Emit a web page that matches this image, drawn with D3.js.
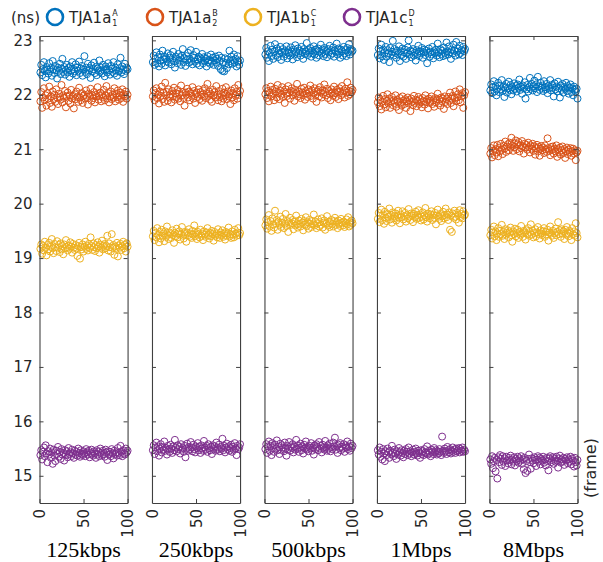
<!DOCTYPE html>
<html>
<head>
<meta charset="utf-8">
<script src="https://cdn.jsdelivr.net/npm/d3@7"></script>
<style>
  body { margin: 0; background: #fff; }
  svg { display: block; }
</style>
</head>
<body>
<div id="chart"></div>
<script>
// panel categories (bit rates) and legend series
const categories = ['125kbps', '250kbps', '500kbps', '1Mbps', '8Mbps'];
const seriesNames = ['TJA1a', 'TJA1a', 'TJA1b', 'TJA1c'];
const seriesSup = ['A', 'B', 'C', 'D'];
const seriesSub = ['1', '2', '1', '1'];
const colors = ['#0072BD', '#D95319', '#EDB120', '#7E2F8E'];
const yTicks = [15, 16, 17, 18, 19, 20, 21, 22, 23];
const xTicks = [0, 50, 100];

// 125kbps
const p125A = [22.41,22.55,22.36,22.47,22.60,22.44,22.32,22.51,22.46,22.39,22.58,22.43,22.49,22.35,22.62,22.47,22.40,22.53,22.45,22.30,22.50,22.44,22.57,22.38,22.48,22.66,22.42,22.51,22.37,22.46,22.55,22.41,22.49,22.33,22.52,22.45,22.60,22.39,22.47,22.43,22.56,22.36,22.50,22.44,22.61,22.40,22.48,22.53,22.35,22.46,22.71,22.42,22.50,22.38,22.57,22.45,22.49,22.31,22.54,22.43,22.47,22.59,22.40,22.51,22.36,22.48,22.44,22.63,22.42,22.50,22.39,22.55,22.46,22.34,22.52,22.47,22.41,22.58,22.45,22.37,22.53,22.48,22.42,22.60,22.39,22.50,22.45,22.35,22.56,22.43,22.49,22.68,22.41,22.52,22.46,22.38,22.57,22.44,22.50,22.47];
const p125B = [21.88,22.05,21.76,21.95,22.12,21.90,21.99,21.80,22.03,21.93,22.15,21.85,21.97,21.78,22.06,21.92,22.00,21.87,22.10,21.95,21.83,22.02,21.96,21.91,22.18,21.86,21.99,21.94,22.07,21.77,21.97,22.04,21.89,21.99,21.84,22.09,21.93,21.98,21.75,22.01,21.92,22.06,21.96,21.87,22.13,21.95,21.90,22.03,21.85,21.98,22.00,21.93,22.08,21.96,21.82,22.02,21.97,22.11,21.89,21.99,21.94,22.05,21.86,22.00,21.97,22.14,21.91,21.98,22.04,21.88,22.01,21.95,22.09,21.90,21.99,22.16,21.93,22.03,21.86,21.97,22.06,21.92,22.00,21.95,22.12,21.88,22.02,21.96,22.08,21.91,21.99,22.04,21.94,22.10,21.87,22.01,21.97,22.06,21.93,22.00];
const p125C = [19.17,19.25,19.08,19.22,19.14,19.30,19.19,19.05,19.24,19.16,19.28,19.12,19.21,19.35,19.18,19.09,19.26,19.20,19.13,19.31,19.19,19.24,19.11,19.27,19.16,19.22,19.07,19.25,19.18,19.33,19.20,19.14,19.23,19.17,19.29,19.21,19.10,19.26,19.19,19.15,19.24,19.18,19.04,19.22,19.28,18.99,19.20,19.16,19.25,19.12,19.21,19.30,19.17,19.23,19.14,19.26,19.19,19.38,19.22,19.15,19.27,19.20,19.13,19.24,19.18,19.29,19.21,19.10,19.25,19.19,19.32,19.16,19.23,19.26,19.18,19.22,19.41,19.14,19.27,19.20,19.12,19.44,19.19,19.24,19.06,19.21,19.17,19.28,19.03,19.23,19.19,19.26,19.15,19.22,19.30,19.18,19.24,19.12,19.27,19.21];
const p125D = [15.38,15.47,15.30,15.44,15.52,15.36,15.56,15.41,15.25,15.45,15.39,15.50,15.33,15.43,15.22,15.48,15.37,15.27,15.46,15.40,15.53,15.35,15.44,15.31,15.49,15.39,15.42,15.28,15.47,15.38,15.45,15.34,15.51,15.40,15.43,15.36,15.48,15.41,15.33,15.46,15.39,15.44,15.37,15.50,15.42,15.35,15.47,15.40,15.38,15.45,15.41,15.36,15.49,15.43,15.39,15.46,15.34,15.42,15.48,15.40,15.37,15.45,15.41,15.33,15.47,15.39,15.44,15.36,15.50,15.42,15.38,15.46,15.40,15.35,15.48,15.43,15.29,15.45,15.39,15.44,15.36,15.49,15.41,15.32,15.46,15.40,15.43,15.37,15.51,15.42,15.38,15.55,15.44,15.36,15.47,15.41,15.39,15.50,15.43,15.46];

// 250kbps
const p250A = [22.60,22.72,22.55,22.66,22.78,22.58,22.69,22.52,22.74,22.63,22.57,22.81,22.65,22.70,22.54,22.67,22.61,22.76,22.59,22.68,22.73,22.56,22.64,22.79,22.62,22.50,22.70,22.66,22.58,22.75,22.63,22.69,22.55,22.72,22.84,22.60,22.67,22.53,22.71,22.64,22.77,22.59,22.66,22.82,22.62,22.56,22.73,22.68,22.61,22.79,22.57,22.65,22.70,22.54,22.67,22.63,22.75,22.58,22.69,22.62,22.66,22.52,22.71,22.60,22.64,22.57,22.74,22.61,22.68,22.55,22.63,22.70,22.59,22.66,22.53,22.72,22.62,22.47,22.68,22.44,22.60,22.43,22.67,22.58,22.49,22.65,22.56,22.81,22.62,22.70,22.57,22.64,22.74,22.59,22.66,22.52,22.71,22.61,22.55,22.63];
const p250B = [21.97,22.08,21.90,22.03,22.12,21.94,22.00,21.84,22.06,21.98,22.15,21.92,22.04,21.87,22.22,21.99,22.05,21.89,22.10,21.95,22.01,21.86,22.07,21.97,22.13,21.91,22.03,21.96,22.09,21.93,22.02,21.88,22.17,21.99,22.05,21.94,21.80,22.04,22.00,22.11,21.95,22.06,21.90,22.03,21.98,22.14,21.93,22.07,21.85,22.01,22.04,21.96,22.10,21.92,22.05,22.00,21.89,22.08,21.97,22.12,21.94,22.03,22.20,21.98,22.06,21.91,22.01,21.87,22.09,21.99,22.05,21.95,22.16,22.00,21.90,22.07,21.96,22.02,21.88,22.11,21.93,22.04,21.99,22.14,21.92,22.06,21.97,22.01,21.83,22.08,21.95,22.03,21.90,22.12,21.98,22.05,21.93,22.18,22.00,22.07];
const p250C = [19.40,19.50,19.33,19.46,19.38,19.55,19.42,19.29,19.48,19.36,19.52,19.41,19.45,19.31,19.49,19.39,19.58,19.43,19.35,19.47,19.44,19.37,19.51,19.42,19.28,19.46,19.40,19.54,19.38,19.45,19.49,19.34,19.43,19.57,19.41,19.36,19.48,19.44,19.30,19.47,19.42,19.53,19.39,19.45,19.37,19.50,19.43,19.60,19.40,19.46,19.35,19.48,19.44,19.38,19.52,19.41,19.45,19.33,19.49,19.43,19.39,19.47,19.55,19.42,19.36,19.46,19.40,19.50,19.44,19.32,19.48,19.41,19.45,19.38,19.53,19.43,19.37,19.47,19.42,19.51,19.39,19.45,19.34,19.48,19.41,19.46,19.56,19.40,19.44,19.37,19.49,19.43,19.38,19.52,19.45,19.41,19.47,19.55,19.42,19.46];
const p250D = [15.47,15.56,15.40,15.52,15.61,15.45,15.54,15.37,15.50,15.58,15.43,15.53,15.48,15.63,15.46,15.51,15.39,15.55,15.49,15.44,15.57,15.50,15.42,15.54,15.47,15.66,15.52,15.45,15.56,15.49,15.53,15.41,15.58,15.48,15.51,15.44,15.55,15.34,15.50,15.59,15.46,15.53,15.48,15.62,15.52,15.45,15.57,15.49,15.43,15.54,15.51,15.60,15.47,15.53,15.42,15.56,15.50,15.46,15.64,15.52,15.48,15.55,15.44,15.58,15.51,15.47,15.53,15.40,15.56,15.49,15.54,15.46,15.61,15.52,15.48,15.57,15.45,15.53,15.50,15.68,15.47,15.55,15.43,15.52,15.59,15.49,15.54,15.46,15.51,15.57,15.44,15.53,15.48,15.60,15.50,15.38,15.55,15.49,15.52,15.58];

// 500kbps
const p500A = [22.74,22.86,22.68,22.80,22.62,22.77,22.90,22.71,22.83,22.66,22.79,22.93,22.73,22.85,22.69,22.81,22.76,22.88,22.64,22.78,22.84,22.70,22.80,22.75,22.89,22.67,22.82,22.77,22.72,22.87,22.79,22.65,22.83,22.74,22.91,22.78,22.69,22.85,22.76,22.81,22.72,22.88,22.79,22.66,22.84,22.75,22.80,22.95,22.73,22.82,22.77,22.86,22.70,22.81,22.76,22.89,22.74,22.83,22.68,22.80,22.85,22.72,22.79,22.92,22.77,22.83,22.71,22.86,22.75,22.80,22.69,22.84,22.78,22.90,22.73,22.82,22.76,22.87,22.70,22.81,22.79,22.94,22.74,22.85,22.77,22.68,22.83,22.80,22.72,22.88,22.76,22.82,22.71,22.86,22.78,22.93,22.74,22.84,22.79,22.81];
const p500B = [22.01,22.12,21.94,22.07,21.88,22.04,22.15,21.97,22.09,22.02,21.90,22.11,22.05,21.95,22.18,22.03,21.92,22.08,22.00,22.14,21.96,22.06,21.85,22.10,22.02,21.98,22.16,22.04,21.93,22.07,22.12,21.99,22.05,21.89,22.09,22.03,22.20,21.97,22.06,22.01,21.94,22.11,22.04,21.99,22.13,21.91,22.07,22.02,21.96,22.10,22.05,22.17,21.98,22.08,21.93,22.03,22.12,22.00,21.87,22.06,22.09,21.97,22.14,22.04,21.95,22.08,22.01,22.19,22.05,21.99,22.11,21.94,22.07,22.02,21.90,22.10,22.04,21.98,22.15,22.03,21.96,22.09,22.05,21.92,22.12,22.06,21.99,22.16,22.02,22.08,21.95,22.11,22.04,22.23,21.98,22.07,22.01,22.13,22.05,22.09];
const p500C = [19.60,19.71,19.54,19.66,19.79,19.58,19.68,19.50,19.73,19.62,19.56,19.87,19.64,19.70,19.52,19.67,19.61,19.76,19.57,19.65,19.72,19.55,19.63,19.81,19.59,19.68,19.48,19.66,19.74,19.61,19.64,19.70,19.53,19.67,19.60,19.78,19.62,19.56,19.69,19.63,19.58,19.72,19.65,19.51,19.68,19.61,19.75,19.59,19.66,19.54,19.70,19.63,19.57,19.68,19.62,19.80,19.60,19.67,19.55,19.64,19.71,19.58,19.66,19.61,19.73,19.56,19.65,19.69,19.52,19.63,19.77,19.60,19.67,19.57,19.64,19.70,19.62,19.58,19.68,19.74,19.61,19.66,19.55,19.69,19.63,19.59,19.72,19.65,19.60,19.67,19.57,19.64,19.71,19.62,19.75,19.58,19.66,19.61,19.69,19.64];
const p500D = [15.49,15.58,15.42,15.54,15.63,15.46,15.55,15.38,15.60,15.51,15.44,15.57,15.50,15.65,15.47,15.53,15.40,15.59,15.48,15.56,15.52,15.45,15.61,15.50,15.37,15.55,15.49,15.62,15.46,15.54,15.51,15.58,15.43,15.53,15.48,15.66,15.50,15.56,15.44,15.52,15.59,15.47,15.54,15.41,15.57,15.50,15.63,15.48,15.53,15.45,15.55,15.51,15.60,15.46,15.52,15.39,15.56,15.49,15.58,15.53,15.47,15.62,15.50,15.55,15.43,15.57,15.51,15.48,15.64,15.52,15.46,15.56,15.50,15.59,15.45,15.53,15.49,15.61,15.54,15.70,15.48,15.55,15.42,15.57,15.51,15.60,15.47,15.53,15.50,15.58,15.44,15.56,15.52,15.63,15.49,15.54,15.46,15.59,15.51,15.55];

// 1Mbps
const p1MA = [22.73,22.85,22.67,22.80,22.92,22.71,22.83,22.64,22.78,22.88,22.70,22.82,22.76,22.60,22.86,22.74,22.79,22.99,22.72,22.84,22.77,22.68,22.81,22.75,22.89,22.62,22.80,22.73,22.85,22.70,22.78,22.83,22.66,22.76,22.87,23.00,22.74,22.81,22.69,22.79,22.84,22.72,22.77,22.63,22.82,22.75,22.90,22.71,22.80,22.76,22.86,22.68,22.78,22.83,22.73,22.81,22.58,22.77,22.85,22.70,22.79,22.74,22.88,22.67,22.80,22.76,22.83,22.72,22.94,22.78,22.69,22.84,22.75,22.81,22.71,22.87,22.77,22.73,22.96,22.80,22.74,22.89,22.78,22.66,22.83,22.76,22.92,22.81,22.72,22.97,22.79,22.85,22.74,22.90,22.77,22.82,22.73,22.88,22.80,22.84];
const p1MB = [21.86,21.95,21.79,21.90,21.73,21.87,21.98,21.82,21.92,21.77,21.89,22.01,21.84,21.93,21.76,21.88,21.96,21.81,21.90,21.85,21.99,21.78,21.91,21.87,21.72,21.94,21.86,21.80,21.97,21.89,21.83,21.92,21.76,21.88,21.95,21.84,21.90,21.70,21.93,21.87,21.81,21.98,21.85,21.91,21.79,21.89,21.96,21.83,21.92,21.86,21.77,21.94,21.88,21.82,21.99,21.87,21.91,21.75,21.93,21.85,21.89,21.97,21.83,21.90,21.78,21.94,21.86,21.92,22.02,21.84,21.91,21.80,21.95,21.88,21.93,21.74,21.97,21.87,21.92,21.83,21.96,21.89,22.04,21.85,21.93,21.98,21.79,21.94,22.06,21.88,21.95,22.01,21.90,22.10,21.86,21.97,22.03,21.76,21.99,22.05];
const p1MC = [19.72,19.83,19.66,19.78,19.89,19.70,19.80,19.63,19.85,19.74,19.68,19.81,19.76,19.91,19.71,19.79,19.65,19.84,19.73,19.77,19.82,19.69,19.78,19.87,19.74,19.64,19.80,19.75,19.86,19.71,19.77,19.83,19.67,19.79,19.73,19.90,19.76,19.70,19.82,19.78,19.66,19.81,19.75,19.85,19.72,19.79,19.88,19.74,19.80,19.69,19.76,19.84,19.71,19.78,19.92,19.75,19.67,19.82,19.77,19.73,19.80,19.86,19.70,19.79,19.74,19.83,19.62,19.78,19.89,19.76,19.72,19.81,19.68,19.77,19.85,19.73,19.79,19.91,19.75,19.80,19.70,19.84,19.52,19.78,19.48,19.82,19.74,19.87,19.76,19.71,19.83,19.79,19.65,19.88,19.75,19.81,19.73,19.86,19.78,19.80];
const p1MD = [15.47,15.39,15.52,15.35,15.44,15.30,15.49,15.41,15.27,15.45,15.38,15.50,15.43,15.33,15.46,15.40,15.55,15.42,15.36,15.48,15.41,15.31,15.45,15.39,15.51,15.43,15.37,15.47,15.42,15.34,15.46,15.40,15.49,15.44,15.38,15.52,15.41,15.45,15.36,15.43,15.48,15.39,15.44,15.50,15.41,15.37,15.46,15.42,15.33,15.47,15.40,15.45,15.38,15.49,15.43,15.41,15.54,15.39,15.46,15.42,15.36,15.48,15.44,15.40,15.51,15.43,15.47,15.39,15.45,15.41,15.49,15.44,15.38,15.72,15.46,15.42,15.50,15.45,15.40,15.53,15.47,15.43,15.49,15.41,15.46,15.52,15.44,15.48,15.42,15.50,15.45,15.47,15.51,15.43,15.49,15.46,15.52,15.44,15.48,15.45];

// 8Mbps
const p8MA = [22.08,22.19,22.03,22.14,22.25,22.06,22.16,21.99,22.11,22.22,22.05,22.17,22.10,22.27,22.07,22.15,21.96,22.13,22.20,22.04,22.12,22.24,22.09,22.18,22.01,22.14,22.08,22.21,22.11,22.16,22.06,22.19,22.13,22.28,22.09,22.15,22.02,22.17,22.12,22.23,21.93,22.10,22.18,22.06,22.14,22.31,22.11,22.20,22.08,22.16,22.26,22.12,22.19,22.05,22.33,22.15,22.09,22.22,22.13,22.17,22.07,22.25,22.14,22.10,22.20,22.03,22.16,22.12,22.27,22.08,22.18,22.13,21.97,22.21,22.10,22.15,22.06,22.24,22.12,21.95,22.17,22.09,22.20,22.04,22.14,22.11,22.22,22.07,22.16,22.02,22.13,22.19,22.05,22.12,21.99,22.15,22.09,22.06,22.11,21.93];
const p8MB = [20.92,21.02,20.85,20.97,21.07,20.89,21.00,20.94,21.08,20.87,21.03,20.96,21.10,20.99,20.91,21.06,21.01,21.14,20.95,21.05,21.09,20.98,21.12,21.03,21.21,21.06,20.97,21.11,21.04,21.16,21.00,21.09,21.13,20.96,21.07,21.02,21.15,21.05,20.92,21.10,21.03,21.08,20.99,21.12,21.04,20.94,21.07,21.01,21.10,20.97,21.05,20.90,21.02,21.08,20.96,21.04,20.88,21.01,21.06,20.98,21.03,20.93,21.07,21.00,20.95,21.20,21.02,20.97,20.89,21.04,20.99,21.05,20.92,21.01,20.96,21.07,20.86,21.00,20.94,21.03,20.90,20.98,21.05,20.93,21.00,20.84,20.97,21.03,20.91,20.99,20.95,21.02,20.88,20.96,21.01,20.92,20.98,20.80,20.94,20.97];
const p8MC = [19.42,19.52,19.36,19.47,19.58,19.40,19.49,19.33,19.45,19.55,19.39,19.50,19.44,19.61,19.41,19.48,19.35,19.53,19.43,19.46,19.51,19.38,19.47,19.56,19.42,19.30,19.49,19.44,19.54,19.40,19.46,19.52,19.37,19.48,19.43,19.59,19.45,19.39,19.50,19.47,19.34,19.51,19.44,19.55,19.41,19.48,19.62,19.43,19.50,19.38,19.46,19.53,19.40,19.47,19.57,19.44,19.36,19.51,19.45,19.42,19.49,19.55,19.39,19.48,19.43,19.52,19.32,19.47,19.58,19.45,19.41,19.50,19.37,19.46,19.54,19.42,19.48,19.66,19.44,19.51,19.39,19.53,19.45,19.49,19.35,19.52,19.43,19.57,19.46,19.40,19.50,19.47,19.33,19.55,19.44,19.49,19.41,19.64,19.46,19.38];
const p8MD = [15.30,15.22,15.36,15.14,15.27,15.33,15.08,15.29,14.95,15.34,15.25,15.38,15.31,15.20,15.36,15.26,15.32,15.18,15.35,15.28,15.23,15.33,15.29,15.37,15.21,15.30,15.26,15.34,15.19,15.31,15.27,15.35,15.24,15.32,15.28,15.36,15.22,15.30,15.12,15.33,15.05,15.27,15.09,15.31,15.39,15.25,15.13,15.32,15.28,15.23,15.34,15.29,15.18,15.30,15.36,15.26,15.33,15.21,15.31,15.28,15.35,15.24,15.30,15.19,15.33,15.27,15.10,15.32,15.36,15.25,15.29,15.34,15.22,15.31,15.26,15.35,15.28,15.15,15.32,15.37,15.24,15.30,15.27,15.33,15.20,15.31,15.28,15.34,15.23,15.30,15.26,15.35,15.21,15.32,15.28,15.17,15.33,15.25,15.19,15.29];

const panelData = [
  [p125A, p125B, p125C, p125D],
  [p250A, p250B, p250C, p250D],
  [p500A, p500B, p500C, p500D],
  [p1MA, p1MB, p1MC, p1MD],
  [p8MA, p8MB, p8MC, p8MD]
];

const W = 603, H = 562;
const plotTop = 36, plotBottom = 503;
const axisFont = "'DejaVu Sans', Verdana, sans-serif";
const axisColor = '#404040';

const svg = d3.select('#chart').append('svg')
  .attr('width', W).attr('height', H)
  .style('font-family', axisFont);

// panel placement
const panelScale = d3.scaleBand().domain(categories)
  .range([39.5, 577.5]).paddingInner(0.217).paddingOuter(0);
const pw = panelScale.bandwidth();
const ph = plotBottom - plotTop;

const y = d3.scaleLinear().domain([14.5, 23.08]).range([ph, 0]);
const x = d3.scaleLinear().domain([0, 100]).range([0, pw]);

categories.forEach((cat, pi) => {
  const g = svg.append('g')
    .attr('transform', `translate(${panelScale(cat)},${plotTop})`);

  // markers
  panelData[pi].forEach((vals, si) => {
    g.append('g').selectAll('circle')
      .data(vals)
      .join('circle')
      .attr('cx', (d, i) => x(i + 1))
      .attr('cy', d => y(d))
      .attr('r', 3.5)
      .attr('fill', 'none')
      .attr('stroke', colors[si])
      .attr('stroke-width', 1);
  });

  // left axis (labels only on first panel)
  const left = g.append('g').call(
    d3.axisLeft(y).tickValues(yTicks).tickSize(-4).tickSizeOuter(0)
      .tickFormat(pi === 0 ? d3.format('d') : () => '')
  );
  const right = g.append('g').attr('transform', `translate(${pw},0)`).call(
    d3.axisRight(y).tickValues(yTicks).tickSize(-4).tickSizeOuter(0).tickFormat(() => '')
  );
  const bot = g.append('g').attr('transform', `translate(0,${ph})`).call(
    d3.axisBottom(x).tickValues(xTicks).tickSize(-4).tickSizeOuter(0).tickFormat(d3.format('d'))
  );
  const tp = g.append('g').call(
    d3.axisTop(x).tickValues(xTicks).tickSize(-4).tickSizeOuter(0).tickFormat(() => '')
  );

  [left, right, bot, tp].forEach(a => {
    a.select('.domain').attr('stroke', axisColor).attr('stroke-width', 1.1);
    a.selectAll('.tick line').attr('stroke', axisColor).attr('stroke-width', 1);
    a.selectAll('.tick text').attr('fill', '#262626').style('font-size', '15px')
      .style('font-family', axisFont);
  });
  left.selectAll('.tick text').attr('x', -7);

  // rotated frame labels
  bot.selectAll('.tick text')
    .attr('transform', 'rotate(-90)')
    .attr('x', -6).attr('y', 0).attr('dy', '0.35em')
    .attr('text-anchor', 'end');

  // bit rate label under the panel
  svg.append('text')
    .attr('x', panelScale(cat) + pw / 2)
    .attr('y', 557)
    .attr('text-anchor', 'middle')
    .style('font-family', "'Liberation Serif', 'Times New Roman', serif")
    .style('font-size', '22px')
    .attr('fill', '#000')
    .text(cat);
});

// x-axis unit on the right
svg.append('text')
  .attr('transform', `translate(596,468) rotate(-90)`)
  .attr('text-anchor', 'middle')
  .style('font-size', '16px')
  .attr('fill', '#262626')
  .text('(frame)');

// y unit + legend
svg.append('text')
  .attr('x', 11).attr('y', 23)
  .style('font-size', '15px')
  .attr('fill', '#262626')
  .text('(ns)');

const legendX = [55, 155, 253, 352];
seriesNames.forEach((name, i) => {
  const lg = svg.append('g').attr('transform', `translate(${legendX[i]},17)`);
  lg.append('circle')
    .attr('r', 8)
    .attr('fill', 'none')
    .attr('stroke', colors[i])
    .attr('stroke-width', 2.6);
  const t = lg.append('text')
    .attr('x', 14).attr('y', 6)
    .style('font-size', '15px')
    .attr('fill', '#262626')
    .text(name);
  const tw = t.node().getComputedTextLength();
  lg.append('text')
    .attr('x', 15 + tw).attr('y', -1)
    .style('font-size', '8px')
    .attr('fill', '#262626')
    .text(seriesSup[i]);
  lg.append('text')
    .attr('x', 15 + tw).attr('y', 9)
    .style('font-size', '8px')
    .attr('fill', '#262626')
    .text(seriesSub[i]);
});
</script>
</body>
</html>
